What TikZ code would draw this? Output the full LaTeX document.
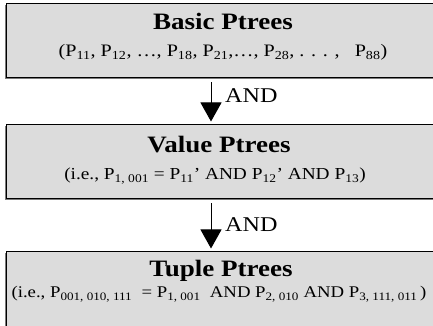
\documentclass[tikz,border=0pt]{standalone}
\usepackage{fontspec}
\setmainfont{Liberation Serif}[FakeStretch=1.15]
\usetikzlibrary{arrows.meta}
\definecolor{boxgray}{HTML}{DCDCDC}
\definecolor{shadowgray}{HTML}{7A7A7A}
\tikzset{
  layerbox/.style={draw=black, line width=1pt, fill=boxgray, minimum width=434pt, minimum height=74pt, inner sep=0pt},
  shadowbox/.style={fill=shadowgray, minimum width=434pt, minimum height=74pt, inner sep=0pt},
  title/.style={anchor=base, font=\fontsize{23.5}{26}\selectfont\bfseries, inner sep=0pt},
  sub/.style={anchor=base, font=\fontsize{17.5}{20}\selectfont, inner sep=0pt},
  submid/.style={anchor=base, font=\fontsize{16.8}{20}\selectfont, inner sep=0pt},
  subsmall/.style={anchor=base, font=\fontsize{16.3}{19}\selectfont, inner sep=0pt},
  andlabel/.style={anchor=base west, font=\fontsize{21}{24}\selectfont, inner sep=0pt},
  flow/.style={line width=1pt, -{Triangle[width=21pt,length=19pt]}}
}
\begin{document}
\begin{tikzpicture}[x=1pt,y=1pt]
\useasboundingbox (0,0) rectangle (433,326);
\clip (0,0) rectangle (433,326);
% shadows
\node[shadowbox] (s1) at (222,283.5) {};
\node[shadowbox] (s2) at (222,162.5) {};
\node[shadowbox, minimum height=90pt] (s3) at (222,27.5) {};
% boxes
\node[layerbox] (b1) at (223,285) {};
\node[layerbox] (b2) at (223,164) {};
\node[layerbox, minimum height=90pt] (b3) at (223,29) {};
% texts
\node[title] (t1) at (223,296) {Basic Ptrees};
\node[sub] (u1) at (223,269) {(P\textsubscript{11}, P\textsubscript{12}, …, P\textsubscript{18}, P\textsubscript{21},…, P\textsubscript{28}, . . . ,\ \ \ P\textsubscript{88})};
\node[title] (t2) at (219,173) {Value Ptrees};
\node[submid] (u2) at (215,146) {(i.e., P\textsubscript{1, 001} = P\textsubscript{11}’ AND P\textsubscript{12}’ AND P\textsubscript{13})};
\node[title] (t3) at (221,49) {Tuple Ptrees};
\node[subsmall] (u3) at (219,28) {(i.e., P\textsubscript{001, 010, 111}\ \ = P\textsubscript{1, 001}\ \ AND P\textsubscript{2, 010} AND P\textsubscript{3, 111, 011}\,)};
% arrows
\draw[flow] ([xshift=-12pt,yshift=-4pt]b1.south) -- ([xshift=-12pt,yshift=3pt]b2.north);
\draw[flow] ([xshift=-12pt,yshift=-4pt]b2.south) -- ([xshift=-12pt,yshift=3pt]b3.north);
\node[andlabel] (a1) at (225,223) {AND};
\node[andlabel] (a2) at (225,94) {AND};
\end{tikzpicture}
\end{document}
